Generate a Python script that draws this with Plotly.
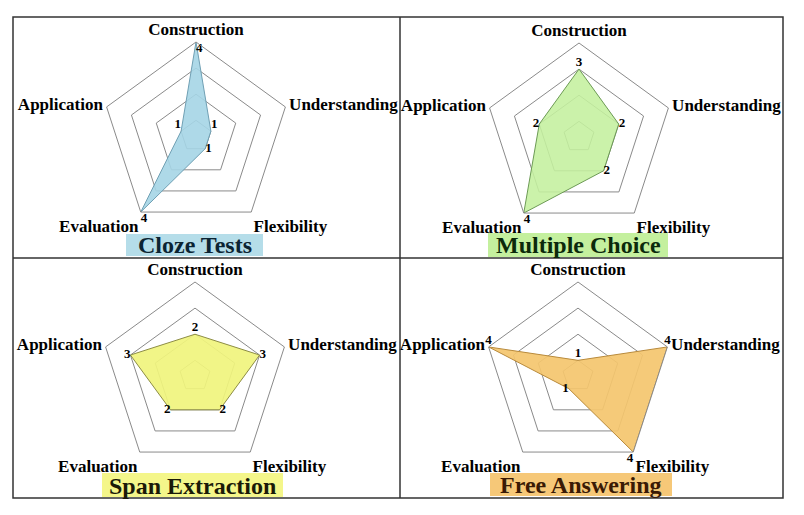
import plotly.graph_objects as go

categories = ["Construction", "Understanding", "Flexibility", "Evaluation", "Application"]
cloze_tests = [4, 1, 1, 4, 1]
multiple_choice = [3, 2, 2, 4, 2]
span_extraction = [2, 3, 2, 2, 3]
free_answering = [1, 4, 4, 1, 4]
panel_titles = ["Cloze Tests", "Multiple Choice", "Span Extraction", "Free Answering"]
ring_values = [1, 2, 3, 4]

W, H = 804, 515
SERIF = "Liberation Serif, Times New Roman, serif"

panels = [
    dict(vals=cloze_tests, cx=196, cy=136, fill="rgba(165,213,230,0.9)", line="#6f9fb3",
         box="#b5dde9", tcol="#0b2433", bx=(126, 263, 234, 256), ty=245,
         pos=["bottom right", "top right", "middle right", "bottom right", "top left"]),
    dict(vals=multiple_choice, cx=579, cy=137, fill="rgba(196,240,158,0.88)", line="#6c9a55",
         box="#c4f09e", tcol="#0b2a0b", bx=(488, 668, 233, 257), ty=245,
         pos=["top center", "middle right", "middle right", "bottom right", "middle left"]),
    dict(vals=span_extraction, cx=195, cy=376, fill="rgba(240,244,125,0.92)", line="#8c8c45",
         box="#f4f68a", tcol="#1a1a08", bx=(102, 283, 473, 497), ty=486,
         pos=["top center", "middle right", "middle right", "middle left", "middle left"]),
    dict(vals=free_answering, cx=578, cy=376, fill="rgba(244,198,110,0.92)", line="#b88a3c",
         box="#f6c878", tcol="#3a1a05", bx=(490, 672, 473, 496), ty=485,
         pos=["top center", "top center", "bottom left", "middle left", "top center"]),
]
R = 94

fig = go.Figure()
layout = dict(width=W, height=H, margin=dict(l=0, r=0, t=0, b=0),
              paper_bgcolor="white", plot_bgcolor="white", showlegend=False)

annotations = []
shapes = []
for i, p in enumerate(panels):
    key = "polar" if i == 0 else f"polar{i+1}"
    th = categories + [categories[0]]
    rv = p["vals"] + [p["vals"][0]]
    fig.add_trace(go.Scatterpolar(
        r=rv, theta=th, subplot=key, mode="lines", fill="toself",
        fillcolor=p["fill"], line=dict(color=p["line"], width=1), hoverinfo="skip"))
    fig.add_trace(go.Scatterpolar(
        r=p["vals"], theta=categories, subplot=key, mode="text",
        text=[str(v) for v in p["vals"]], textposition=p["pos"],
        textfont=dict(family=SERIF, size=13, color="black", weight="bold"), hoverinfo="skip"))
    x0, x1 = (p["cx"] - R) / W, (p["cx"] + R) / W
    y0, y1 = 1 - (p["cy"] + R) / H, 1 - (p["cy"] - R) / H
    layout[key] = dict(
        domain=dict(x=[x0, x1], y=[y0, y1]),
        bgcolor="rgba(0,0,0,0)",
        gridshape="linear",
        radialaxis=dict(range=[0.4, 4], tickvals=ring_values, showticklabels=False, ticks="",
                        showline=False, gridcolor="#8a8a8a", gridwidth=1),
        angularaxis=dict(rotation=90, direction="clockwise", showgrid=False, ticks="",
                         linecolor="#8a8a8a", linewidth=1,
                         tickfont=dict(family=SERIF, size=17, color="black", weight="bold")),
    )
    bx = p["bx"]
    shapes.append(dict(type="rect", xref="paper", yref="paper", layer="below",
                       x0=bx[0] / W, x1=bx[1] / W, y0=1 - bx[3] / H, y1=1 - bx[2] / H,
                       fillcolor=p["box"], line=dict(width=0)))
    annotations.append(dict(
        x=(bx[0] + bx[1]) / 2 / W, y=1 - p["ty"] / H, xref="paper", yref="paper",
        text=panel_titles[i], showarrow=False,
        font=dict(family=SERIF, size=24, color=p["tcol"], weight="bold"),
        xanchor="center", yanchor="middle"))

shapes += [
    dict(type="rect", xref="paper", yref="paper", x0=13 / W, x1=783 / W,
         y0=1 - 498 / H, y1=1 - 17 / H, line=dict(color="#333333", width=1.5)),
    dict(type="line", xref="paper", yref="paper", x0=400 / W, x1=400 / W,
         y0=1 - 498 / H, y1=1 - 17 / H, line=dict(color="#333333", width=1.5)),
    dict(type="line", xref="paper", yref="paper", x0=13 / W, x1=783 / W,
         y0=1 - 258 / H, y1=1 - 258 / H, line=dict(color="#333333", width=1.5)),
]
layout["annotations"] = annotations
layout["shapes"] = shapes
fig.update_layout(**layout)
fig.write_html("out.html", config={"displayModeBar": False},
               post_script="document.body.style.margin='0';")
